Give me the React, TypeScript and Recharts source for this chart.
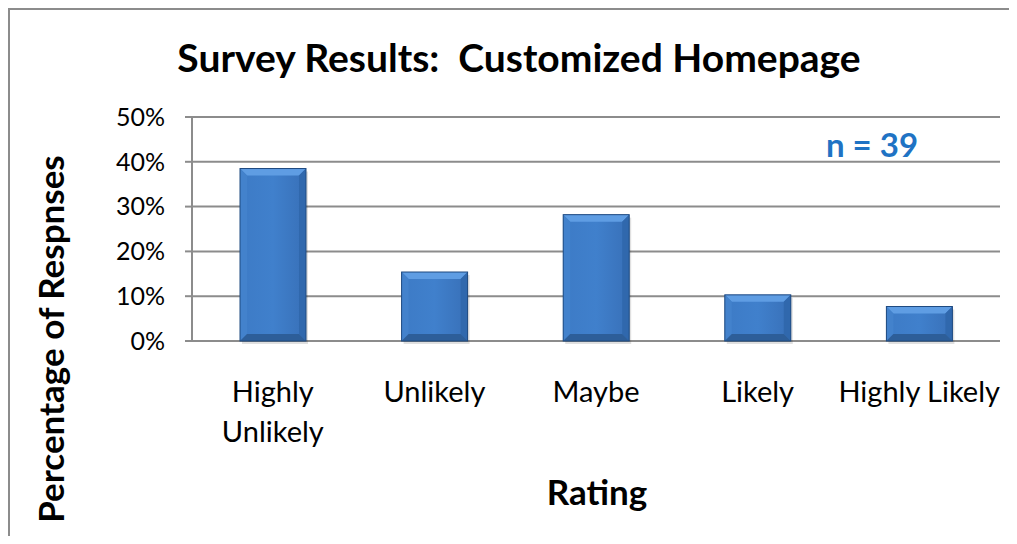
import React from "react";
import { BarChart, Bar, XAxis, YAxis, CartesianGrid } from "recharts";

const categories = ["Highly Unlikely", "Unlikely", "Maybe", "Likely", "Highly Likely"];
const categoryLines = [["Highly", "Unlikely"], ["Unlikely"], ["Maybe"], ["Likely"], ["Highly Likely"]];
const shares = [0.385, 0.154, 0.282, 0.103, 0.077];
const yTicks = [0, 0.1, 0.2, 0.3, 0.4, 0.5];
const edgeTicks = [0, 1, 2, 3, 4, 5];

const data = categories.map((name, i) => ({ name, share: shares[i], idx: i }));

const FONT = "Lato, 'Open Sans', sans-serif";
const GRID = "#8c8c8c";

const BevelBar = (props: any) => {
  const { x, y, width: w, height: h } = props;
  if (!h || h <= 0) return null;
  const b = Math.min(7, w / 4, h / 4);
  return (
    <g>
      <rect x={x + 2} y={y + 3} width={w} height={h} fill="#000" opacity={0.12} />
      <rect x={x} y={y} width={w} height={h} fill="url(#faceGrad)" />
      <polygon
        points={`${x},${y} ${x + w},${y} ${x + w - b},${y + b} ${x + b},${y + b}`}
        fill="#5f9de3"
      />
      <polygon
        points={`${x},${y} ${x + b},${y + b} ${x + b},${y + h - b} ${x},${y + h}`}
        fill="#4382cc"
      />
      <polygon
        points={`${x + w},${y} ${x + w},${y + h} ${x + w - b},${y + h - b} ${x + w - b},${y + b}`}
        fill="#3068ad"
      />
      <polygon
        points={`${x},${y + h} ${x + b},${y + h - b} ${x + w - b},${y + h - b} ${x + w},${y + h}`}
        fill="#2d5e99"
      />
      <rect x={x} y={y} width={w} height={h} fill="none" stroke="#1f4a80" strokeWidth={1} />
    </g>
  );
};

const CategoryTick = (props: any) => {
  const { x, y, index } = props;
  const lines = categoryLines[index] || [];
  return (
    <g>
      {lines.map((line, i) => (
        <text
          key={i}
          x={x}
          y={y + 41 + i * 40}
          textAnchor="middle"
          dominantBaseline="central"
          fontFamily={FONT}
          fontSize={29}
          fill="#000"
        >
          {line}
        </text>
      ))}
    </g>
  );
};

const centered = (left: number, top: number, extra: React.CSSProperties, text: string, rotate = false) => (
  <div style={{ position: "absolute", left, top, width: 0, height: 0 }}>
    <div
      style={{
        position: "absolute",
        transform: `translate(-50%, -50%)${rotate ? " rotate(-90deg)" : ""}`,
        whiteSpace: "pre",
        fontFamily: FONT,
        fontWeight: 700,
        color: "#000",
        lineHeight: 1,
        ...extra,
      }}
    >
      {text}
    </div>
  </div>
);

export default function App() {
  return (
    <div style={{ width: 1009, height: 528, overflow: "hidden", position: "relative" }}>
      <div
        style={{
          position: "absolute",
          left: 0,
          top: 0,
          width: 1030,
          height: 560,
          border: `2px solid ${GRID}`,
          background: "#fff",
        }}
      >
        {centered(509, 47, { fontSize: 39 }, "Survey Results:  Customized Homepage")}
        {centered(862, 134, { fontSize: 33, color: "#1f73c4" }, "n = 39")}
        {centered(587, 481, { fontSize: 35 }, "Rating")}
        {centered(40, 329, { fontSize: 35 }, "Percentage of Respnses", true)}
        <BarChart
          width={1000}
          height={520}
          data={data}
          margin={{ top: 107, right: 10, left: 122, bottom: 89 }}
          style={{ position: "absolute", left: 0, top: 0 }}
        >
          <defs>
            <linearGradient id="faceGrad" x1="0" y1="0" x2="1" y2="0">
              <stop offset="0%" stopColor="#3d7bc6" />
              <stop offset="50%" stopColor="#4080cc" />
              <stop offset="100%" stopColor="#3870b8" />
            </linearGradient>
          </defs>
          <CartesianGrid vertical={false} stroke={GRID} strokeWidth={2} />
          <XAxis
            xAxisId="edges"
            type="number"
            dataKey="idx"
            domain={[0, 5]}
            ticks={edgeTicks}
            height={0}
            axisLine={{ stroke: GRID, strokeWidth: 2 }}
            tickLine={{ stroke: GRID, strokeWidth: 2 }}
            tickSize={9}
            tick={() => <g />}
            interval={0}
          />
          <XAxis
            dataKey="name"
            height={100}
            axisLine={false}
            tickLine={false}
            tick={<CategoryTick />}
            interval={0}
          />
          <YAxis
            width={60}
            domain={[0, 0.5]}
            ticks={yTicks}
            tickFormatter={(v: number) => `${Math.round(v * 100)}%`}
            axisLine={{ stroke: GRID, strokeWidth: 2 }}
            tickLine={{ stroke: GRID, strokeWidth: 2 }}
            tickSize={7}
            tick={{ fontFamily: FONT, fontSize: 25, fill: "#000", dx: -18 }}
          />
          <Bar dataKey="share" barSize={66} shape={<BevelBar />} isAnimationActive={false} />
        </BarChart>
      </div>
    </div>
  );
}
